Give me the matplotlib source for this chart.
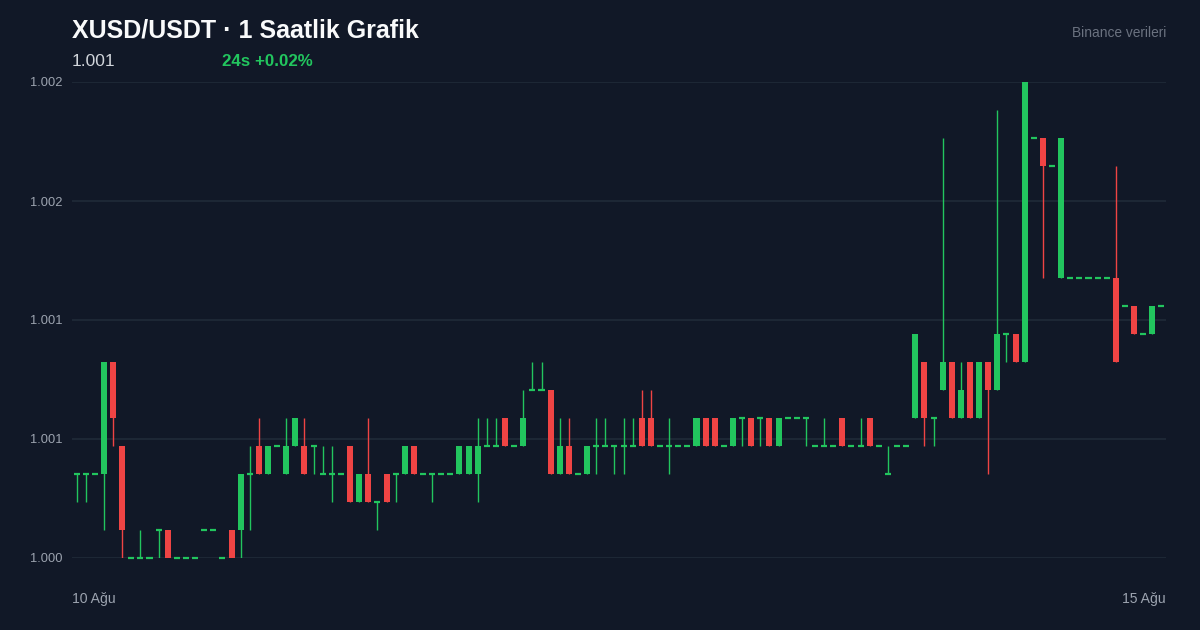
import matplotlib
matplotlib.use('Agg')
import matplotlib.pyplot as plt
import numpy as np

plt.rcParams['font.family'] = ['Liberation Sans', 'DejaVu Sans']

# saatlik mumlar, 10 Ağu - 15 Ağu (120 adet)
opens = [
    1.0006, 1.0006, 1.0006, 1.0006, 1.0010, 1.0007, 1.0003, 1.0003, 1.0003, 1.0004,
    1.0004, 1.0003, 1.0003, 1.0003, 1.0004, 1.0004, 1.0003, 1.0004, 1.0004, 1.0006,
    1.0007, 1.0006, 1.0007, 1.0006, 1.0007, 1.0007, 1.0007, 1.0006, 1.0006, 1.0006,
    1.0007, 1.0005, 1.0006, 1.0005, 1.0006, 1.0006, 1.0006, 1.0007, 1.0006, 1.0006,
    1.0006, 1.0006, 1.0006, 1.0006, 1.0006, 1.0007, 1.0007, 1.0008, 1.0007, 1.0007,
    1.0009, 1.0009, 1.0009, 1.0006, 1.0007, 1.0006, 1.0006, 1.0007, 1.0007, 1.0007,
    1.0007, 1.0007, 1.0008, 1.0008, 1.0007, 1.0007, 1.0007, 1.0007, 1.0007, 1.0008,
    1.0008, 1.0007, 1.0007, 1.0008, 1.0008, 1.0008, 1.0008, 1.0007, 1.0008, 1.0008,
    1.0008, 1.0007, 1.0007, 1.0007, 1.0008, 1.0007, 1.0007, 1.0008, 1.0007, 1.0006,
    1.0007, 1.0007, 1.0008, 1.0010, 1.0008, 1.0009, 1.0010, 1.0008, 1.0010, 1.0008,
    1.0010, 1.0009, 1.0011, 1.0011, 1.0010, 1.0018, 1.0018, 1.0017, 1.0013, 1.0013,
    1.0013, 1.0013, 1.0013, 1.0013, 1.0013, 1.0012, 1.0012, 1.0011, 1.0011, 1.0012,
]
highs = [
    1.0006, 1.0006, 1.0006, 1.0010, 1.0010, 1.0007, 1.0003, 1.0004, 1.0003, 1.0004,
    1.0004, 1.0003, 1.0003, 1.0003, 1.0004, 1.0004, 1.0003, 1.0004, 1.0006, 1.0007,
    1.0008, 1.0007, 1.0007, 1.0008, 1.0008, 1.0008, 1.0007, 1.0007, 1.0007, 1.0006,
    1.0007, 1.0006, 1.0008, 1.0005, 1.0006, 1.0006, 1.0007, 1.0007, 1.0006, 1.0006,
    1.0006, 1.0006, 1.0007, 1.0007, 1.0008, 1.0008, 1.0008, 1.0008, 1.0007, 1.0009,
    1.0010, 1.0010, 1.0009, 1.0008, 1.0008, 1.0006, 1.0007, 1.0008, 1.0008, 1.0007,
    1.0008, 1.0008, 1.0009, 1.0009, 1.0007, 1.0008, 1.0007, 1.0007, 1.0008, 1.0008,
    1.0008, 1.0007, 1.0008, 1.0008, 1.0008, 1.0008, 1.0008, 1.0008, 1.0008, 1.0008,
    1.0008, 1.0007, 1.0008, 1.0007, 1.0008, 1.0007, 1.0008, 1.0008, 1.0007, 1.0007,
    1.0007, 1.0007, 1.0011, 1.0010, 1.0008, 1.0018, 1.0010, 1.0010, 1.0010, 1.0010,
    1.0010, 1.0019, 1.0011, 1.0011, 1.0020, 1.0018, 1.0018, 1.0017, 1.0018, 1.0013,
    1.0013, 1.0013, 1.0013, 1.0013, 1.0017, 1.0012, 1.0012, 1.0011, 1.0012, 1.0012,
]
lows = [
    1.0005, 1.0005, 1.0006, 1.0004, 1.0007, 1.0003, 1.0003, 1.0003, 1.0003, 1.0003,
    1.0003, 1.0003, 1.0003, 1.0003, 1.0004, 1.0004, 1.0003, 1.0003, 1.0003, 1.0004,
    1.0006, 1.0006, 1.0007, 1.0006, 1.0007, 1.0006, 1.0006, 1.0006, 1.0005, 1.0006,
    1.0005, 1.0005, 1.0005, 1.0004, 1.0005, 1.0005, 1.0006, 1.0006, 1.0006, 1.0005,
    1.0006, 1.0006, 1.0006, 1.0006, 1.0005, 1.0007, 1.0007, 1.0007, 1.0007, 1.0007,
    1.0009, 1.0009, 1.0006, 1.0006, 1.0006, 1.0006, 1.0006, 1.0006, 1.0007, 1.0006,
    1.0006, 1.0007, 1.0007, 1.0007, 1.0007, 1.0006, 1.0007, 1.0007, 1.0007, 1.0007,
    1.0007, 1.0007, 1.0007, 1.0007, 1.0007, 1.0007, 1.0007, 1.0007, 1.0008, 1.0008,
    1.0007, 1.0007, 1.0007, 1.0007, 1.0007, 1.0007, 1.0007, 1.0007, 1.0007, 1.0006,
    1.0007, 1.0007, 1.0008, 1.0007, 1.0007, 1.0009, 1.0008, 1.0008, 1.0008, 1.0008,
    1.0006, 1.0009, 1.0010, 1.0010, 1.0010, 1.0018, 1.0013, 1.0017, 1.0013, 1.0013,
    1.0013, 1.0013, 1.0013, 1.0013, 1.0010, 1.0012, 1.0011, 1.0011, 1.0011, 1.0012,
]
closes = [
    1.0006, 1.0006, 1.0006, 1.0010, 1.0008, 1.0004, 1.0003, 1.0003, 1.0003, 1.0004,
    1.0003, 1.0003, 1.0003, 1.0003, 1.0004, 1.0004, 1.0003, 1.0003, 1.0006, 1.0006,
    1.0006, 1.0007, 1.0007, 1.0007, 1.0008, 1.0006, 1.0007, 1.0006, 1.0006, 1.0006,
    1.0005, 1.0006, 1.0005, 1.0005, 1.0005, 1.0006, 1.0007, 1.0006, 1.0006, 1.0006,
    1.0006, 1.0006, 1.0007, 1.0007, 1.0007, 1.0007, 1.0007, 1.0007, 1.0007, 1.0008,
    1.0009, 1.0009, 1.0006, 1.0007, 1.0006, 1.0006, 1.0007, 1.0007, 1.0007, 1.0007,
    1.0007, 1.0007, 1.0007, 1.0007, 1.0007, 1.0007, 1.0007, 1.0007, 1.0008, 1.0007,
    1.0007, 1.0007, 1.0008, 1.0008, 1.0007, 1.0008, 1.0007, 1.0008, 1.0008, 1.0008,
    1.0008, 1.0007, 1.0007, 1.0007, 1.0007, 1.0007, 1.0007, 1.0007, 1.0007, 1.0006,
    1.0007, 1.0007, 1.0011, 1.0008, 1.0008, 1.0010, 1.0008, 1.0009, 1.0008, 1.0010,
    1.0009, 1.0011, 1.0011, 1.0010, 1.0020, 1.0018, 1.0017, 1.0017, 1.0018, 1.0013,
    1.0013, 1.0013, 1.0013, 1.0013, 1.0010, 1.0012, 1.0011, 1.0011, 1.0012, 1.0012,
]

title = 'XUSD/USDT · 1 Saatlik Grafik'
source = 'Binance verileri'
first_day = '10 Ağu'
last_day = '15 Ağu'

bg = '#111827'
grid_c = '#1f2937'
up_c = '#22c55e'
down_c = '#ef4444'

o = np.array(opens)
h = np.array(highs)
l = np.array(lows)
c = np.array(closes)
x = np.arange(len(o))

fig = plt.figure(figsize=(12, 6.3), dpi=100, facecolor=bg)
ax = fig.add_axes([0.06, 1 - 558 / 630, 1166 / 1200 - 0.06, (558 - 82) / 630])
ax.set_facecolor(bg)

lo, hi = l.min(), h.max()
ax.set_ylim(lo, hi)
ax.set_xlim(-0.5, len(o) - 0.5)

yt = np.linspace(lo, hi, 5)
ax.set_yticks(yt)
ax.set_yticklabels([f'{v:.3f}' for v in yt])
ax.yaxis.grid(True, color=grid_c, lw=1.3)
ax.set_axisbelow(True)
ax.set_xticks([])
ax.tick_params(axis='y', length=0, pad=7, labelsize=9.3, labelcolor='#9ca3af')
for s in ax.spines.values():
    s.set_visible(False)

colors = np.where(c >= o, up_c, down_c)
w = 0.66
ax.vlines(x, l, h, colors=colors, lw=1.0, zorder=2)
body = c != o
ax.bar(x[body], np.abs(c - o)[body], bottom=np.minimum(o, c)[body], width=w,
       color=colors[body], lw=0, zorder=3)
ax.hlines(o[~body], x[~body] - w / 2, x[~body] + w / 2, colors=colors[~body],
          lw=1.6, zorder=3, clip_on=False)

# başlık
fig.text(0.06, 1 - 30 / 630, title, color='#f9fafb', fontsize=18,
         fontweight='bold', va='center', ha='left')
fig.text(0.06, 1 - 61 / 630, f'{c[-1]:.3f}', color='#d1d5db', fontsize=12.5,
         va='center', ha='left')
chg = (c[-1] / o[-24] - 1) * 100
fig.text(222 / 1200, 1 - 61 / 630, f'24s {chg:+.2f}%',
         color=up_c if chg >= 0 else down_c, fontsize=12.2, fontweight='bold',
         va='center', ha='left')
fig.text(1166 / 1200, 1 - 33 / 630, source, color='#6b7280', fontsize=9.9,
         va='center', ha='right')

fig.text(0.06, 1 - 599 / 630, first_day, color='#9ca3af', fontsize=10.1,
         va='center', ha='left')
fig.text(1166 / 1200, 1 - 599 / 630, last_day, color='#9ca3af', fontsize=10.1,
         va='center', ha='right')

fig.savefig('out.png', dpi=100, facecolor=bg)
